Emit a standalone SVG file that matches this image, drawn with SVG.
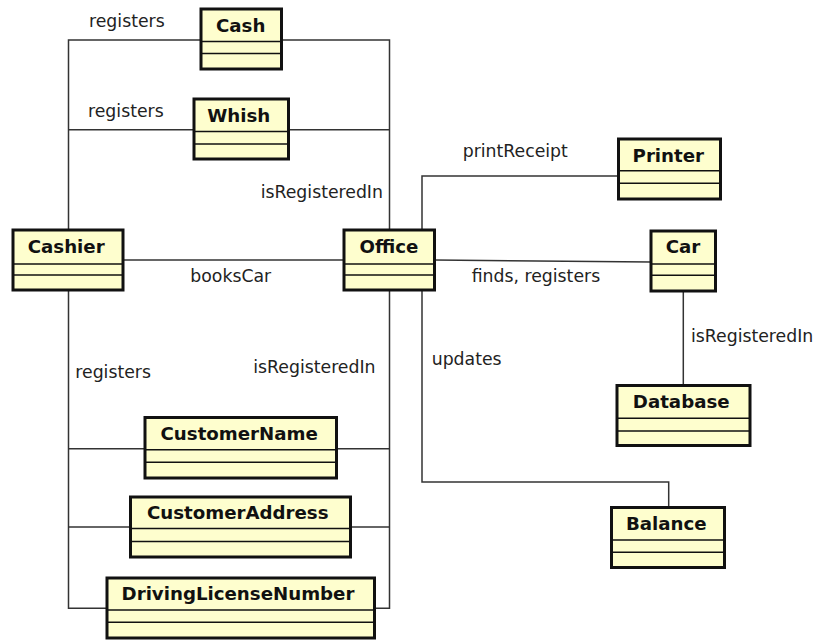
<svg xmlns="http://www.w3.org/2000/svg" width="818" height="641" viewBox="0 0 818 641">
  <style>
    .box { fill: #FEFECE; stroke: #111; stroke-width: 3; }
    .sep { stroke: #111; stroke-width: 1.6; }
    .name { font-family: "DejaVu Sans", sans-serif; font-weight: bold; font-size: 18.2px; fill: #111; text-anchor: middle; }
    .link { fill: none; stroke: #333; stroke-width: 1.5; }
    .lbl { font-family: "DejaVu Sans", sans-serif; font-size: 17.3px; fill: #222; }
  </style>
  <rect width="818" height="641" fill="#fff"/>

  <g id="connectors">
    <!-- Cashier / Office to Cash and Whish -->
    <polyline class="link" points="68.5,230 68.5,40 201,40"/>
    <polyline class="link" points="281.5,40 389.5,40 389.5,230"/>
    <line class="link" x1="68.5" y1="129.7" x2="194" y2="129.7"/>
    <line class="link" x1="288.5" y1="129.7" x2="389.5" y2="129.7"/>
    <!-- booksCar -->
    <line class="link" x1="123" y1="260" x2="344" y2="260"/>
    <!-- Office to Printer, Car, Balance -->
    <polyline class="link" points="422,230 422,176 618.5,176"/>
    <line class="link" x1="434.5" y1="260" x2="651" y2="262"/>
    <polyline class="link" points="422,290 422,482 668.7,482 668.7,507.5"/>
    <!-- Car to Database -->
    <line class="link" x1="683.3" y1="291" x2="683.3" y2="385.5"/>
    <!-- Cashier / Office to customer data -->
    <polyline class="link" points="68.5,290 68.5,608.3 107,608.3"/>
    <polyline class="link" points="389.5,290 389.5,608.3 374.5,608.3"/>
    <line class="link" x1="68.5" y1="448.7" x2="145" y2="448.7"/>
    <line class="link" x1="336.5" y1="448.7" x2="389.5" y2="448.7"/>
    <line class="link" x1="68.5" y1="527" x2="130.5" y2="527"/>
    <line class="link" x1="350.5" y1="527" x2="389.5" y2="527"/>

    <text class="lbl" x="89" y="26.7">registers</text>
    <text class="lbl" x="88" y="116.5">registers</text>
    <text class="lbl" x="260.7" y="198.3">isRegisteredIn</text>
    <text class="lbl" x="190.3" y="281.7">booksCar</text>
    <text class="lbl" x="75.3" y="378.3">registers</text>
    <text class="lbl" x="253.3" y="372.7">isRegisteredIn</text>
    <text class="lbl" x="462.7" y="157.3">printReceipt</text>
    <text class="lbl" x="471.7" y="281.7">finds, registers</text>
    <text class="lbl" x="691" y="341.7">isRegisteredIn</text>
    <text class="lbl" x="431.7" y="365">updates</text>
  </g>

  <g id="Cash">
    <rect class="box" x="201" y="9" width="80.5" height="60"/>
    <line class="sep" x1="201" y1="41.5" x2="281.5" y2="41.5"/>
    <line class="sep" x1="201" y1="53.5" x2="281.5" y2="53.5"/>
    <text class="name" x="240.7" y="32">Cash</text>
  </g>

  <g id="Whish">
    <rect class="box" x="194" y="99" width="94.5" height="60"/>
    <line class="sep" x1="194" y1="131.5" x2="288.5" y2="131.5"/>
    <line class="sep" x1="194" y1="144" x2="288.5" y2="144"/>
    <text class="name" x="238.8" y="122.3">Whish</text>
  </g>

  <g id="Cashier">
    <rect class="box" x="13" y="230" width="110" height="60"/>
    <line class="sep" x1="13" y1="264" x2="123" y2="264"/>
    <line class="sep" x1="13" y1="275" x2="123" y2="275"/>
    <text class="name" x="66.2" y="253.3">Cashier</text>
  </g>

  <g id="Office">
    <rect class="box" x="344" y="230" width="90.5" height="60"/>
    <line class="sep" x1="344" y1="264" x2="434.5" y2="264"/>
    <line class="sep" x1="344" y1="275" x2="434.5" y2="275"/>
    <text class="name" x="389" y="253.3">Office</text>
  </g>

  <g id="Printer">
    <rect class="box" x="618.5" y="139" width="102" height="60"/>
    <line class="sep" x1="618.5" y1="170.7" x2="720.5" y2="170.7"/>
    <line class="sep" x1="618.5" y1="183.3" x2="720.5" y2="183.3"/>
    <text class="name" x="668.3" y="161.7">Printer</text>
  </g>

  <g id="Car">
    <rect class="box" x="651" y="231" width="64.5" height="60"/>
    <line class="sep" x1="651" y1="264" x2="715.5" y2="264"/>
    <line class="sep" x1="651" y1="275.3" x2="715.5" y2="275.3"/>
    <text class="name" x="683" y="253.3">Car</text>
  </g>

  <g id="Database">
    <rect class="box" x="617" y="385.5" width="133" height="60"/>
    <line class="sep" x1="617" y1="418.3" x2="750" y2="418.3"/>
    <line class="sep" x1="617" y1="431" x2="750" y2="431"/>
    <text class="name" x="681.2" y="408.3">Database</text>
  </g>

  <g id="Balance">
    <rect class="box" x="611.5" y="507.5" width="113" height="60"/>
    <line class="sep" x1="611.5" y1="540" x2="724.5" y2="540"/>
    <line class="sep" x1="611.5" y1="552.3" x2="724.5" y2="552.3"/>
    <text class="name" x="666.3" y="530">Balance</text>
  </g>

  <g id="CustomerName">
    <rect class="box" x="145" y="417.5" width="191.5" height="60.5"/>
    <line class="sep" x1="145" y1="449.7" x2="336.5" y2="449.7"/>
    <line class="sep" x1="145" y1="462.3" x2="336.5" y2="462.3"/>
    <text class="name" x="239.2" y="440">CustomerName</text>
  </g>

  <g id="CustomerAddress">
    <rect class="box" x="130.5" y="497" width="220" height="60"/>
    <line class="sep" x1="130.5" y1="528.5" x2="350.5" y2="528.5"/>
    <line class="sep" x1="130.5" y1="541.5" x2="350.5" y2="541.5"/>
    <text class="name" x="237.7" y="519">CustomerAddress</text>
  </g>

  <g id="DrivingLicenseNumber">
    <rect class="box" x="107" y="578" width="267.5" height="60"/>
    <line class="sep" x1="107" y1="610" x2="374.5" y2="610"/>
    <line class="sep" x1="107" y1="622.3" x2="374.5" y2="622.3"/>
    <text class="name" x="238" y="600">DrivingLicenseNumber</text>
  </g>
</svg>
